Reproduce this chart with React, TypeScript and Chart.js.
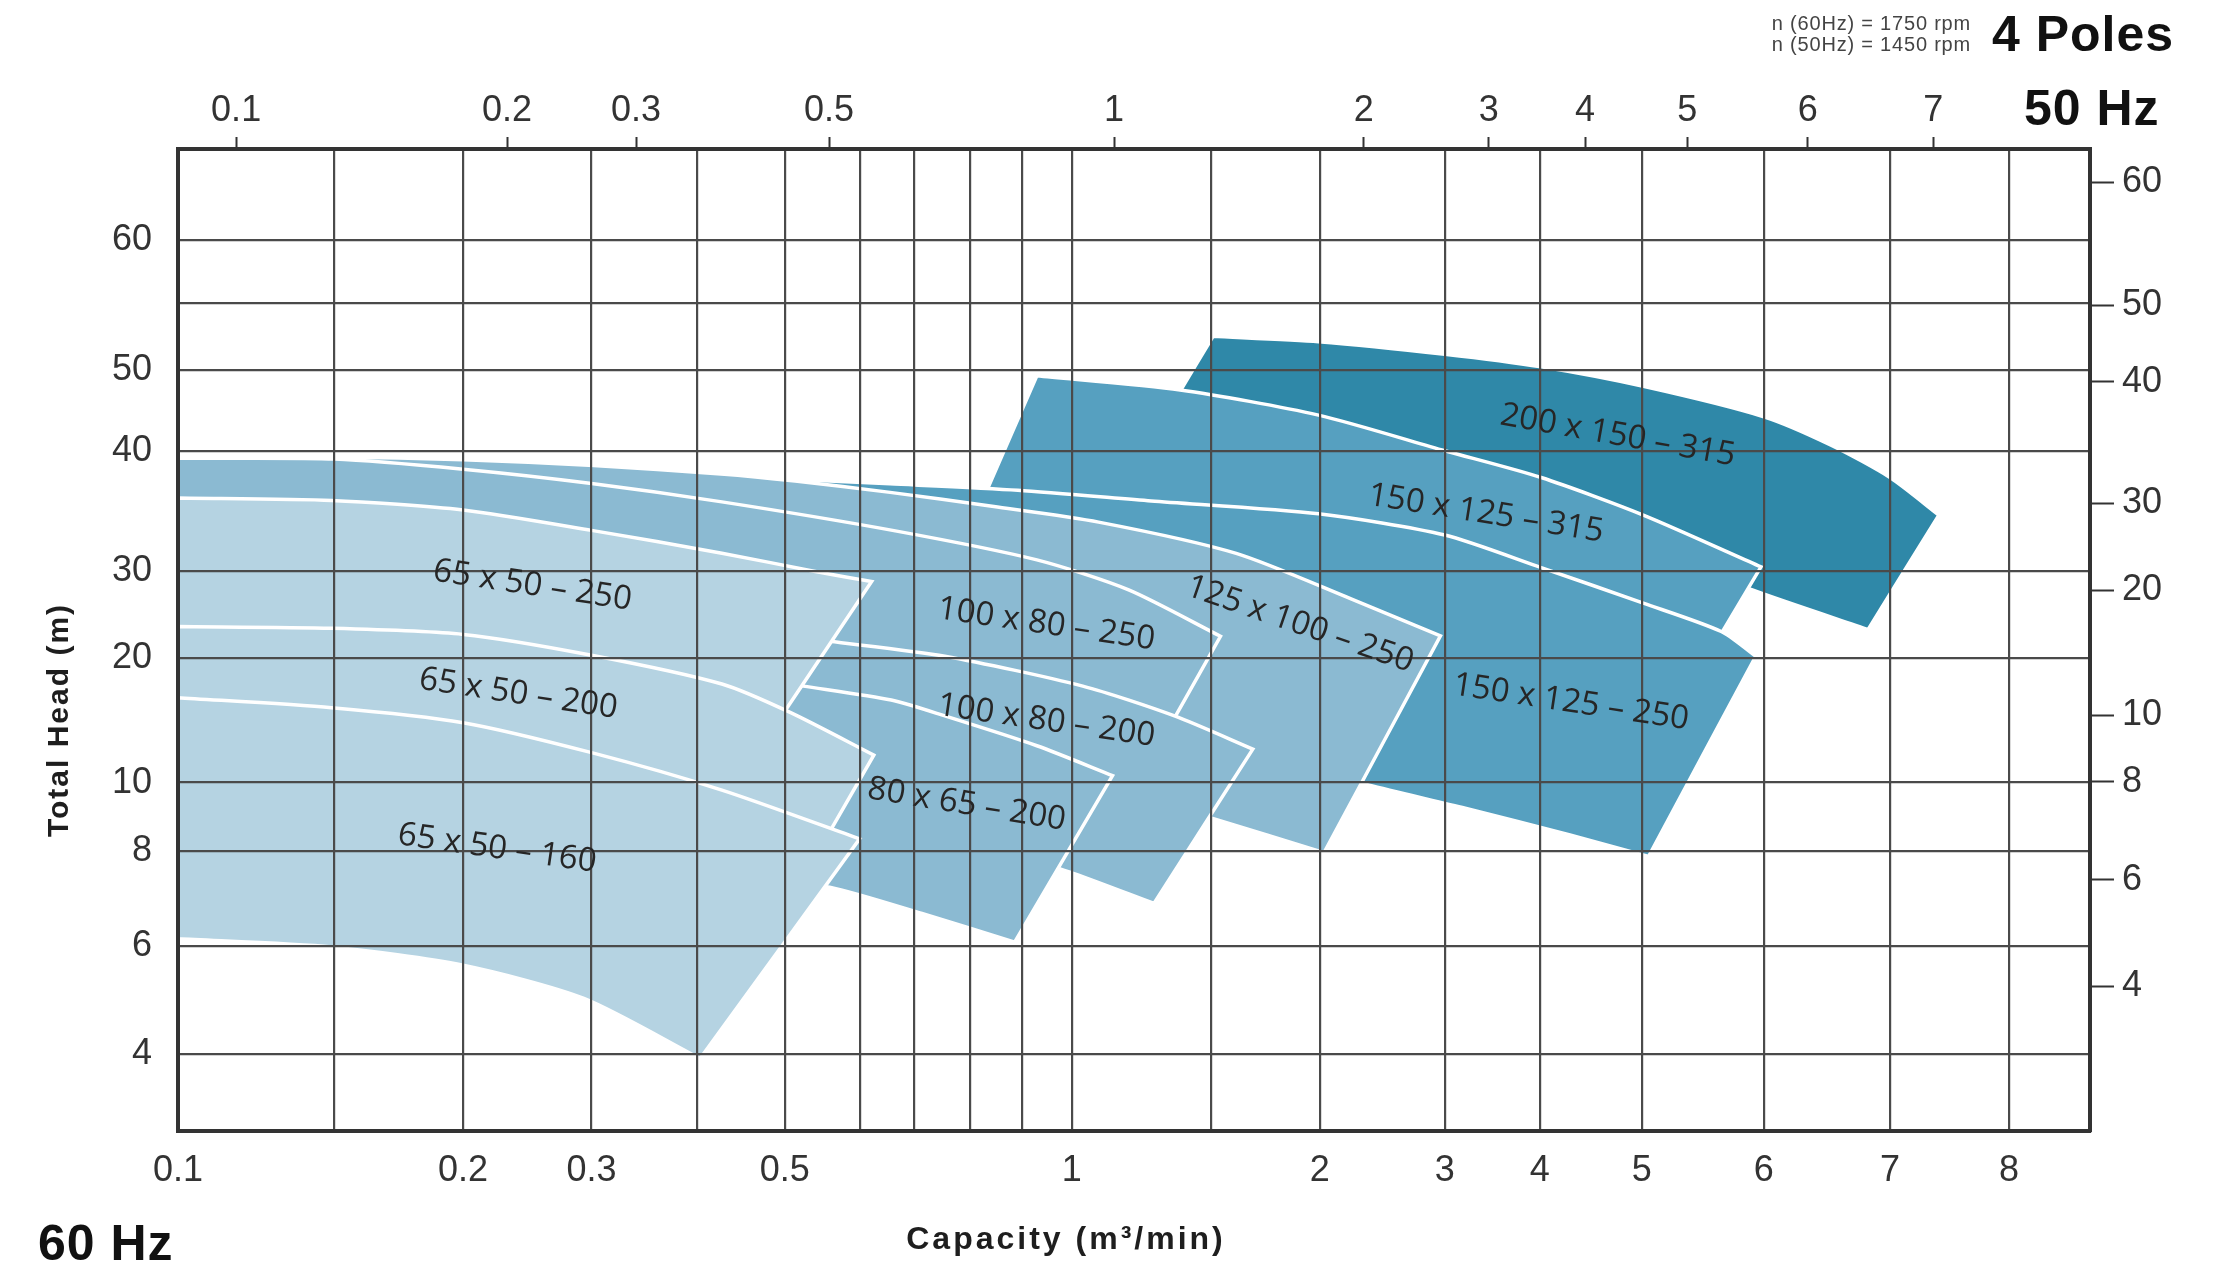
import React, { useEffect, useRef } from 'react';
import { Chart, Scale, registerables } from 'chart.js';

Chart.register(...registerables);

// ---------------- tick values ----------------
const capacity60Ticks = [0.1, 0.15, 0.2, 0.3, 0.4, 0.5, 0.6, 0.7, 0.8, 0.9, 1, 1.5, 2, 3, 4, 5, 6, 7, 8];
const capacity60Labels = [0.1, 0.2, 0.3, 0.5, 1, 2, 3, 4, 5, 6, 7, 8];
const capacity50Ticks = [0.1, 0.2, 0.3, 0.5, 1, 2, 3, 4, 5, 6, 7];
const head60Ticks = [4, 6, 8, 10, 20, 30, 40, 50, 55, 60];
const head60Labels = [4, 6, 8, 10, 20, 30, 40, 50, 60];
const head50Ticks = [4, 6, 8, 10, 20, 30, 40, 50, 60];

// ---------------- axis calibration (the printed axes are hand-spaced) ----------------
const cap60KnotValues = [0.1, 0.15, 0.2, 0.3, 0.4, 0.5, 0.6, 0.7, 0.8, 0.9, 1, 1.5, 2, 3, 4, 5, 6, 7, 8, 8.68];
const cap60KnotPos = [0, 0.0819, 0.1491, 0.2163, 0.2717, 0.3173, 0.3565, 0.385, 0.4142, 0.4414, 0.4674, 0.5401, 0.5972, 0.6625, 0.7122, 0.7656, 0.8294, 0.8954, 0.9577, 1];
const cap50KnotValues = [0.0785, 0.1, 0.2, 0.3, 0.5, 1, 2, 3, 4, 5, 6, 7, 8.25];
const cap50KnotPos = [0, 0.0304, 0.1721, 0.2396, 0.3405, 0.4896, 0.6202, 0.6855, 0.7359, 0.7893, 0.8524, 0.918, 1];
const head60KnotValues = [2.6, 4, 6, 8, 10, 20, 30, 40, 50, 55, 60, 67.3];
const head60KnotPos = [0, 0.0788, 0.1879, 0.2854, 0.3548, 0.4819, 0.5701, 0.6922, 0.7746, 0.8432, 0.9068, 1];
const head50KnotValues = [1.3, 4, 6, 8, 10, 20, 30, 40, 50, 60, 62.7];
const head50KnotPos = [0, 0.1474, 0.2558, 0.3555, 0.4234, 0.5506, 0.6394, 0.763, 0.841, 0.9663, 1];

// ---------------- pump coverage areas: upper and lower limit curves, [capacity m3/min, head m] @60Hz ----------------
const pump200x150_315Top = [[1.511, 52.53], [1.994, 52.13], [3.0, 51.2], [4.014, 50.26], [5.012, 48.02], [6.0, 44.26], [6.537, 40.72], [7.0, 37.81], [7.41, 34.68]];
const pump200x150_315Bottom = [[1.386, 47.19], [1.805, 44.56], [2.795, 39.17], [4.903, 32.43], [5.912, 27.8], [6.827, 23.26]];
const pump150x125_315Top = [[0.93, 49.33], [1.39, 47.58], [1.994, 44.47], [3.0, 40.07], [4.014, 37.81], [5.012, 34.68], [5.977, 30.36]];
const pump150x125_315Bottom = [[0.832, 36.69], [1.23, 35.15], [1.805, 34.09], [2.795, 31.84], [4.208, 28.41], [5.64, 22.54]];
const pump150x125_250Top = [[0.481, 37.75], [0.656, 37.28], [0.892, 36.75], [1.286, 35.86], [1.994, 34.79], [3.0, 33.02], [4.014, 30.3], [5.012, 26.31], [5.651, 23.03], [5.934, 20.17]];
const pump150x125_250Bottom = [[0.481, 32.67], [0.589, 30.3], [0.846, 23.85], [1.23, 15.85], [1.805, 11.88], [2.39, 9.93], [3.216, 9.25], [4.296, 8.46], [5.055, 7.88]];
const pump125x100_250Top = [[0.1, 39.65], [0.15, 39.53], [0.2, 39.29], [0.302, 38.82], [0.427, 38.11], [0.514, 37.52], [0.656, 36.57], [0.846, 35.39], [1.097, 34.09], [1.617, 31.48], [2.25, 26.8], [2.966, 22.54]];
const pump125x100_250Bottom = [[0.1, 30.3], [0.1857, 27.13], [0.345, 23.85], [0.496, 19.26], [0.715, 14.72], [0.986, 10.74], [1.495, 8.98], [2.034, 7.96]];
const pump100x80_250Top = [[0.1, 39.41], [0.15, 39.35], [0.2, 38.5], [0.3, 37.31], [0.428, 35.78], [0.663, 33.38], [0.93, 30.94], [1.205, 27.84], [1.545, 22.48]];
const pump100x80_250Bottom = [[0.1, 28.77], [0.414, 25.49], [0.589, 19.26], [0.845, 15.85], [1.306, 12.67]];
const pump100x80_200Top = [[0.514, 22.38], [0.56, 21.9], [0.755, 20.18], [1.04, 17.73], [1.37, 15.34], [1.693, 12.68]];
const pump100x80_200Bottom = [[0.514, 9.65], [0.637, 9.02], [0.845, 8.06], [0.995, 7.56], [1.296, 6.9]];
const pump80x65_200Top = [[0.463, 18.35], [0.525, 17.73], [0.658, 16.61], [0.755, 15.34], [0.93, 12.95], [1.147, 10.56]];
const pump80x65_200Bottom = [[0.514, 7.24], [0.56, 7.24], [0.714, 6.69], [0.886, 6.09]];
const pump65x50_250Top = [[0.1, 36.1], [0.149, 35.9], [0.2, 35.1], [0.3, 33.4], [0.428, 31.5], [0.539, 30.0], [0.622, 28.8]];
const pump65x50_250Bottom = [[0.1, 18.13], [0.204, 17.0], [0.305, 14.72], [0.447, 10.17]];
const pump65x50_200Top = [[0.1, 23.6], [0.149, 23.4], [0.2, 22.7], [0.3, 20.3], [0.428, 17.9], [0.508, 15.6], [0.626, 12.2]];
const pump65x50_200Bottom = [[0.1, 11.31], [0.204, 9.65], [0.345, 8.4], [0.523, 7.39]];
const pump65x50_160Top = [[0.1, 16.8], [0.149, 16.0], [0.2, 14.8], [0.3, 12.4], [0.428, 9.78], [0.6, 8.35]];
const pump65x50_160Bottom = [[0.1, 6.16], [0.149, 5.99], [0.2, 5.65], [0.294, 5.03], [0.403, 3.91]];

// drawn back to front
const pumpNames = ['200 x 150 – 315', '150 x 125 – 315', '150 x 125 – 250', '125 x 100 – 250', '100 x 80 – 250', '100 x 80 – 200', '80 x 65 – 200', '65 x 50 – 250', '65 x 50 – 200', '65 x 50 – 160'];
const pumpTops = [pump200x150_315Top, pump150x125_315Top, pump150x125_250Top, pump125x100_250Top, pump100x80_250Top, pump100x80_200Top, pump80x65_200Top, pump65x50_250Top, pump65x50_200Top, pump65x50_160Top];
const pumpBottoms = [pump200x150_315Bottom, pump150x125_315Bottom, pump150x125_250Bottom, pump125x100_250Bottom, pump100x80_250Bottom, pump100x80_200Bottom, pump80x65_200Bottom, pump65x50_250Bottom, pump65x50_200Bottom, pump65x50_160Bottom];

// ---------------- styling ----------------
const DARK = '#2f88a8';
const BLUE = '#56a0c0';
const MEDIUM = '#8bbad2';
const LIGHT = '#b5d3e2';
const areaColors = [DARK, BLUE, BLUE, MEDIUM, MEDIUM, MEDIUM, MEDIUM, LIGHT, LIGHT, LIGHT];
// label anchor (capacity, head) and rotation in degrees
const labelAnchors = [[4.764, 41.93, 10], [3.433, 34.79, 9], [4.306, 16.42, 8.5], [1.909, 23.85, 19], [0.949, 23.85, 8.3], [0.949, 14.94, 8.3], [0.794, 9.35, 9.2], [0.254, 28.33, 8.5], [0.243, 17.1, 8.5], [0.2265, 8.06, 8]];

const GRID = '#4a4a4a';
const FRAME = '#333333';
const TICK_FONT = "'Liberation Sans', Arial, sans-serif";
const W = 2223;
const H = 1270;

function interp(v: number, xs: number[], ys: number[]) {
  const n = xs.length;
  let i = 0;
  if (v <= xs[0]) i = 0;
  else if (v >= xs[n - 1]) i = n - 2;
  else {
    while (i < n - 2 && v > xs[i + 1]) i++;
  }
  const t = (v - xs[i]) / (xs[i + 1] - xs[i]);
  return ys[i] + t * (ys[i + 1] - ys[i]);
}

class KnotScale extends Scale {
  static id = 'knot';
  static defaults = {};
  determineDataLimits() {
    const o: any = this.options;
    (this as any).min = o.knotValues[0];
    (this as any).max = o.knotValues[o.knotValues.length - 1];
  }
  buildTicks() {
    const o: any = this.options;
    return o.tickValues.map((value: number) => ({ value }));
  }
  getLabelForValue(value: number) {
    return String(value);
  }
  getPixelForValue(value: number) {
    const o: any = this.options;
    return this.getPixelForDecimal(interp(value, o.knotValues, o.knotPos));
  }
  getPixelForTick(index: number) {
    const t = (this as any).ticks[index];
    return t ? this.getPixelForValue(t.value) : NaN;
  }
  getValueForPixel(pixel: number) {
    const o: any = this.options;
    return interp(this.getDecimalForPixel(pixel), o.knotPos, o.knotValues);
  }
}
Chart.register(KnotScale as any);

// closed outline: upper curve left->right, straight right edge, lower curve right->left, straight left edge.
// every corner point is doubled so the spline keeps it sharp.
function outline(top: number[][], bottom: number[][]) {
  const p = (a: number[]) => ({ x: a[0], y: a[1] });
  const rev = bottom.slice().reverse();
  const out: { x: number; y: number }[] = [];
  top.forEach((a) => out.push(p(a)));
  out.push(p(top[top.length - 1]));
  out.push(p(rev[0]));
  rev.forEach((a) => out.push(p(a)));
  out.push(p(rev[rev.length - 1]));
  out.push(p(top[0]));
  return out;
}

const textPlugin = {
  id: 'pumpText',
  afterDraw(chart: any) {
    const ctx = chart.ctx as CanvasRenderingContext2D;
    const xs = chart.scales.x;
    const ys = chart.scales.y;
    ctx.save();
    // region labels
    ctx.fillStyle = '#262626';
    ctx.font = "33px 'Open Sans', sans-serif";
    (ctx as any).letterSpacing = '0px';
    ctx.textAlign = 'center';
    ctx.textBaseline = 'middle';
    pumpNames.forEach((name, i) => {
      const [q, h, a] = labelAnchors[i];
      ctx.save();
      ctx.translate(xs.getPixelForValue(q), ys.getPixelForValue(h));
      ctx.rotate((a * Math.PI) / 180);
      ctx.fillText(name, 0, 0);
      ctx.restore();
    });
    // axis titles
    ctx.fillStyle = '#1e1e1e';
    ctx.font = "bold 30px 'Liberation Sans', Arial, sans-serif";
    (ctx as any).letterSpacing = '2px';
    ctx.save();
    ctx.translate(60, 720);
    ctx.rotate(-Math.PI / 2);
    ctx.fillText('Total Head (m)', 0, 0);
    ctx.restore();
    ctx.font = "bold 32px 'Liberation Sans', Arial, sans-serif";
    (ctx as any).letterSpacing = '3px';
    ctx.fillText('Capacity (m³/min)', 1066, 1240);
    // frequency / poles
    ctx.fillStyle = '#111';
    ctx.font = "bold 50px 'Liberation Sans', Arial, sans-serif";
    (ctx as any).letterSpacing = '1px';
    ctx.textAlign = 'left';
    ctx.fillText('60 Hz', 38, 1246);
    ctx.fillText('50 Hz', 2024, 111);
    ctx.fillText('4 Poles', 1992, 37);
    ctx.fillStyle = '#444';
    ctx.font = "20px 'Liberation Sans', Arial, sans-serif";
    (ctx as any).letterSpacing = '0.8px';
    ctx.textAlign = 'right';
    ctx.fillText('n (60Hz) = 1750 rpm', 1971, 24);
    ctx.fillText('n (50Hz) = 1450 rpm', 1971, 45);
    ctx.restore();
  },
};

export default function App() {
  const ref = useRef<HTMLCanvasElement | null>(null);
  useEffect(() => {
    document.body.style.margin = '0';
    document.body.style.overflow = 'hidden';
    if (!ref.current) return;
    const datasets = pumpTops
      .map((top, i) => ({
        type: 'line',
        label: pumpNames[i],
        data: outline(top, pumpBottoms[i]),
        fill: 'shape',
        backgroundColor: areaColors[i],
        borderColor: '#ffffff',
        borderWidth: 3.5,
        borderJoinStyle: 'miter',
        pointRadius: 0,
        tension: 0.25,
      }))
      .reverse();

    const tickFont = { family: TICK_FONT, size: 36 };
    const chart = new Chart(ref.current, {
      type: 'line',
      data: { datasets } as any,
      options: {
        animation: false,
        responsive: false,
        devicePixelRatio: 1,
        events: [],
        layout: { padding: 0 },
        plugins: { legend: { display: false }, tooltip: { enabled: false } },
        scales: {
          x: {
            type: 'knot',
            axis: 'x',
            position: 'bottom',
            knotValues: cap60KnotValues,
            knotPos: cap60KnotPos,
            tickValues: capacity60Ticks,
            grid: { color: GRID, lineWidth: 2.2, drawTicks: false, z: 1 },
            border: { color: FRAME, width: 4, z: 2 },
            ticks: {
              z: 2, autoSkip: false, maxRotation: 0, minRotation: 0, padding: 18, color: '#333', font: tickFont,
              callback: (v: any) => (capacity60Labels.includes(v) ? String(v) : ''),
            },
            afterFit: (s: any) => { s.height = 139; },
          },
          x2: {
            type: 'knot',
            axis: 'x',
            position: 'top',
            knotValues: cap50KnotValues,
            knotPos: cap50KnotPos,
            tickValues: capacity50Ticks,
            grid: { drawOnChartArea: false, drawTicks: true, tickLength: 12, tickWidth: 2, tickColor: FRAME, z: 1 },
            border: { color: FRAME, width: 4, z: 2 },
            ticks: { z: 2, autoSkip: false, maxRotation: 0, minRotation: 0, padding: 4, color: '#333', font: tickFont },
            afterFit: (s: any) => { s.height = 149; },
          },
          y: {
            type: 'knot',
            axis: 'y',
            position: 'left',
            knotValues: head60KnotValues,
            knotPos: head60KnotPos,
            tickValues: head60Ticks,
            grid: { color: GRID, lineWidth: 2.2, drawTicks: false, z: 1 },
            border: { color: FRAME, width: 4, z: 2 },
            ticks: {
              z: 2, autoSkip: false, padding: 26, color: '#333', font: tickFont,
              callback: (v: any) => (head60Labels.includes(v) ? String(v) : ''),
            },
            afterFit: (s: any) => { s.width = 178; },
          },
          y2: {
            type: 'knot',
            axis: 'y',
            position: 'right',
            knotValues: head50KnotValues,
            knotPos: head50KnotPos,
            tickValues: head50Ticks,
            grid: { drawOnChartArea: false, drawTicks: true, tickLength: 24, tickWidth: 2, tickColor: FRAME, z: 1 },
            border: { color: FRAME, width: 4, z: 2 },
            ticks: { z: 2, autoSkip: false, padding: 8, color: '#333', font: tickFont },
            afterFit: (s: any) => { s.width = W - 2090; },
          },
        } as any,
      },
      plugins: [textPlugin as any],
    } as any);
    return () => chart.destroy();
  }, []);

  return (
    <div style={{ position: 'absolute', left: 0, top: 0, width: W, height: H, background: '#fff' }}>
      <canvas ref={ref} width={W} height={H} style={{ display: 'block' }} />
    </div>
  );
}
